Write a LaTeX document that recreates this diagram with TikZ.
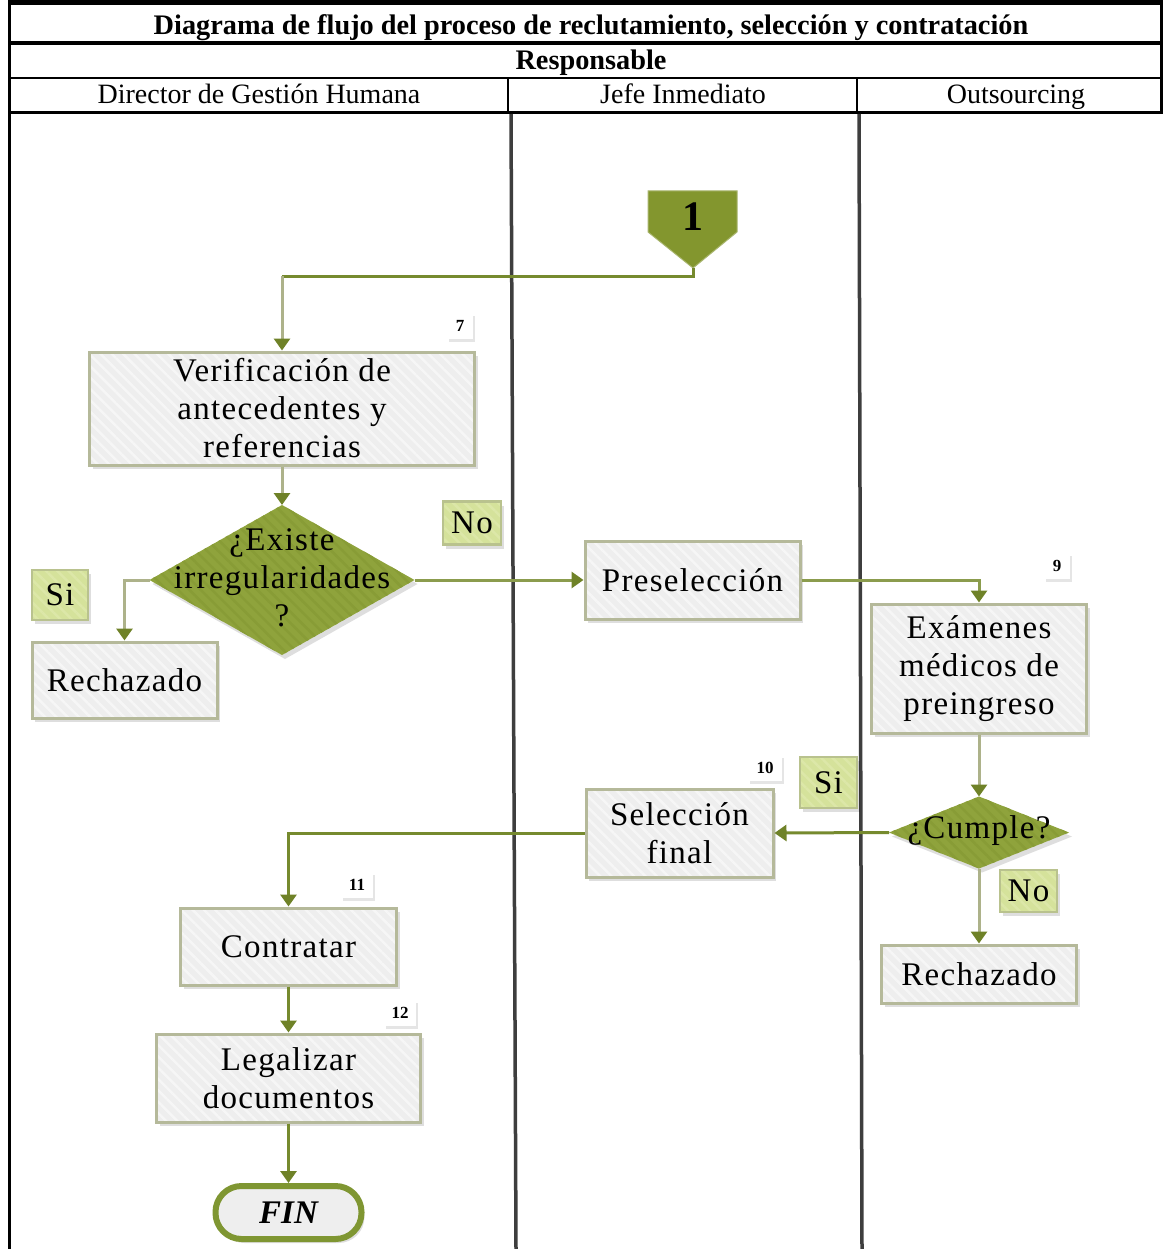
\documentclass[tikz,border=0pt]{standalone}
\usepackage{fontspec}
\setmainfont{Liberation Serif}
\newfontfamily\boxfont[LetterSpace=4]{Liberation Serif}
\usetikzlibrary{arrows.meta,shadows,patterns.meta}

\definecolor{boxline}{HTML}{B5B99A}
\definecolor{boxfill}{HTML}{EEEEEE}
\definecolor{boxhatch}{HTML}{F6F6F6}
\definecolor{decfill}{HTML}{8FA33C}
\definecolor{dechatch}{HTML}{889C36}
\definecolor{offfill}{HTML}{83962E}
\definecolor{tagfill}{HTML}{D5E29B}
\definecolor{taghatch}{HTML}{DCE7A8}
\definecolor{tagline}{HTML}{B9C28E}
\definecolor{palewire}{HTML}{ADB28A}
\definecolor{darkwire}{HTML}{768A2E}
\definecolor{tipcol}{HTML}{6F8228}
\definecolor{lanecol}{HTML}{3E3E3E}
\definecolor{finline}{HTML}{7F9632}

\tikzset{
  shade box/.style={drop shadow={shadow xshift=3pt,shadow yshift=-4pt,fill=black,opacity=0.13}},
  stripes/.style={preaction={pattern={Lines[angle=-45,distance=8pt,line width=2.5pt]},pattern color=#1}},
  procbox/.style={shade box,preaction={fill=boxfill},stripes=boxhatch,draw=boxline,line width=3pt,
    inner sep=0pt,align=center,font=\boxfont\fontsize{33}{38}\selectfont},
  decframe/.style={rectangle,inner sep=0pt,outer sep=0pt},
  dectext/.style={align=center,inner sep=0pt,font=\boxfont\fontsize{33}{38}\selectfont},
  decfilling/.style={shade box,preaction={fill=decfill},stripes=dechatch},
  answer/.style={shade box,preaction={fill=tagfill},stripes=taghatch,draw=tagline,line width=2.5pt,
    inner sep=0pt,font=\boxfont\fontsize{33}{38}\selectfont},
  stepno/.style={drop shadow={shadow xshift=2pt,shadow yshift=-3pt,fill=black,opacity=0.10},
    fill=white,inner sep=0pt,minimum height=26pt,minimum width=26pt,
    font=\bfseries\fontsize{17}{17}\selectfont},
  wire/.style={line width=3pt,draw=darkwire},
  pale/.style={line width=3pt,draw=palewire},
  tip/.style={-{Triangle[width=16pt,length=12pt,color=tipcol]}},
  hdr/.style={font=\fontsize{28}{28}\selectfont,inner sep=0pt,anchor=base},
  hdrbold/.style={hdr,font=\bfseries\fontsize{28.3}{28.3}\selectfont},
}

\begin{document}
\begin{tikzpicture}[x=1pt,y=-1pt]
\useasboundingbox (0,0) rectangle (1163,1249);
\fill[white] (0,0) rectangle (1163,1249);

% ---- header table ----
\draw[line width=4.5pt] (8,2.5) -- (1163,2.5);
\draw[line width=4.5pt] (8,43) -- (1163,43);
\draw[line width=2.5pt] (8,78) -- (1163,78);
\draw[line width=3pt] (8,112.5) -- (1163,112.5);
\draw[line width=2.5pt] (9.5,0) -- (9.5,1249);
\draw[line width=2.5pt] (1161.5,0) -- (1161.5,112);
\draw[line width=2pt] (508,78) -- (508,112);
\draw[line width=2pt] (857,78) -- (857,112);

\node[hdrbold] (title) at (591,35) {Diagrama de flujo del proceso de reclutamiento, selección y contratación};
\node[hdrbold] (resp) at (591,70) {Responsable};
\node[hdr] (h1) at (259,104) {Director de Gestión Humana};
\node[hdr] (h2) at (683,104) {Jefe Inmediato};
\node[hdr] (h3) at (1016,104) {Outsourcing};

% ---- swimlane separators ----
\draw[lanecol,line width=3.5pt] (511,114) -- (516,1249);
\draw[lanecol,line width=3.5pt] (859,114) -- (862,1249);

% ---- off-page connector ----
\draw[fill=offfill,draw=offfill!70!white,line width=1pt]
  (648,191) -- (737,191) -- (737,232) -- (693,268) -- (648,232) -- cycle;
\node[font=\bfseries\fontsize{42}{42}\selectfont,inner sep=0pt] (c1) at (692.5,217) {1};
\coordinate (c1tip) at (693,268);

% ---- process nodes ----
\node[procbox,minimum width=385pt,minimum height=113pt] (verif) at (282,408.5)
  {Verificación de\\antecedentes y\\referencias};
\node[procbox,minimum width=185pt,minimum height=76pt] (rech1) at (124.5,680) {Rechazado};
\node[procbox,minimum width=215pt,minimum height=78pt] (presel) at (692.5,580) {Preselección};
\node[procbox,minimum width=215pt,minimum height=129pt] (exam) at (979,668.5)
  {Exámenes\\médicos de\\preingreso};
\node[procbox,minimum width=187pt,minimum height=88pt] (self) at (679.5,833) {Selección\\final};
\node[procbox,minimum width=195pt,minimum height=58pt] (rech2) at (979,974) {Rechazado};
\node[procbox,minimum width=216pt,minimum height=77pt] (contr) at (288.5,946.5) {Contratar};
\node[procbox,minimum width=264pt,minimum height=88pt] (legal) at (288.5,1078) {Legalizar\\documentos};
\node[shade box,draw=finline,line width=6pt,fill=boxfill,rounded corners=26pt,
  minimum width=146pt,minimum height=53pt,inner sep=0pt,
  font=\bfseries\itshape\fontsize{33}{38}\selectfont] (fin) at (288.5,1212.5) {FIN};

% ---- decisions: frame nodes give the diamond tips as anchors ----
\node[decframe,minimum width=265pt,minimum height=150pt] (q1) at (282,580) {};
\path[decfilling] (q1.west) -- (q1.north) -- (q1.east) -- (q1.south) -- cycle;
\node[dectext] (q1t) at (282,578) {¿Existe\\irregularidades\\?};
\node[decframe,minimum width=180pt,minimum height=72pt] (q2) at (979,832.5) {};
\path[decfilling] (q2.west) -- (q2.north) -- (q2.east) -- (q2.south) -- cycle;
\node[dectext] (q2t) at (979,831) {¿Cumple?};

% ---- answer tags ----
\node[answer,minimum width=56pt,minimum height=50pt] (si1) at (60,595) {Si};
\node[answer,minimum width=58pt,minimum height=43pt] (no1) at (472,523) {No};
\node[answer,minimum width=57pt,minimum height=51pt] (si2) at (828.5,782.5) {Si};
\node[answer,minimum width=57pt,minimum height=42pt] (no2) at (1028.5,891) {No};

% ---- step numbers ----
\node[stepno] (n7) at (460,326) {7};
\node[stepno] (n9) at (1057,566) {9};
\node[stepno,minimum width=34pt] (n10) at (765,768) {10};
\node[stepno,minimum width=32pt] (n11) at (357,885) {11};
\node[stepno,minimum width=32pt] (n12) at (400,1013) {12};

% ---- connectors ----
\coordinate (lvl) at (0,276);
\coordinate (bend1) at (verif.north |- lvl);
\draw[wire] (c1tip) |- (bend1);
\draw[pale,tip] (bend1) -- (verif.north);
\draw[pale,tip] (verif.south) -- (q1.north);
\draw[pale,tip] (q1.west) -| (rech1.north);
\draw[wire,draw=darkwire!85!white,tip] (q1.east) -- (presel.west);
\draw[wire,draw=darkwire!85!white,tip] (presel.east) -| (exam.north);
\draw[pale,tip] (exam.south) -- (q2.north);
\draw[wire,tip] (q2.west) -- (self.east);
\draw[pale,tip] (q2.south) -- (rech2.north);
\draw[wire,tip] (self.west) -| (contr.north);
\draw[wire,tip] (contr.south) -- (legal.north);
\draw[wire,tip] (legal.south) -- (fin.north);
\end{tikzpicture}
\end{document}
